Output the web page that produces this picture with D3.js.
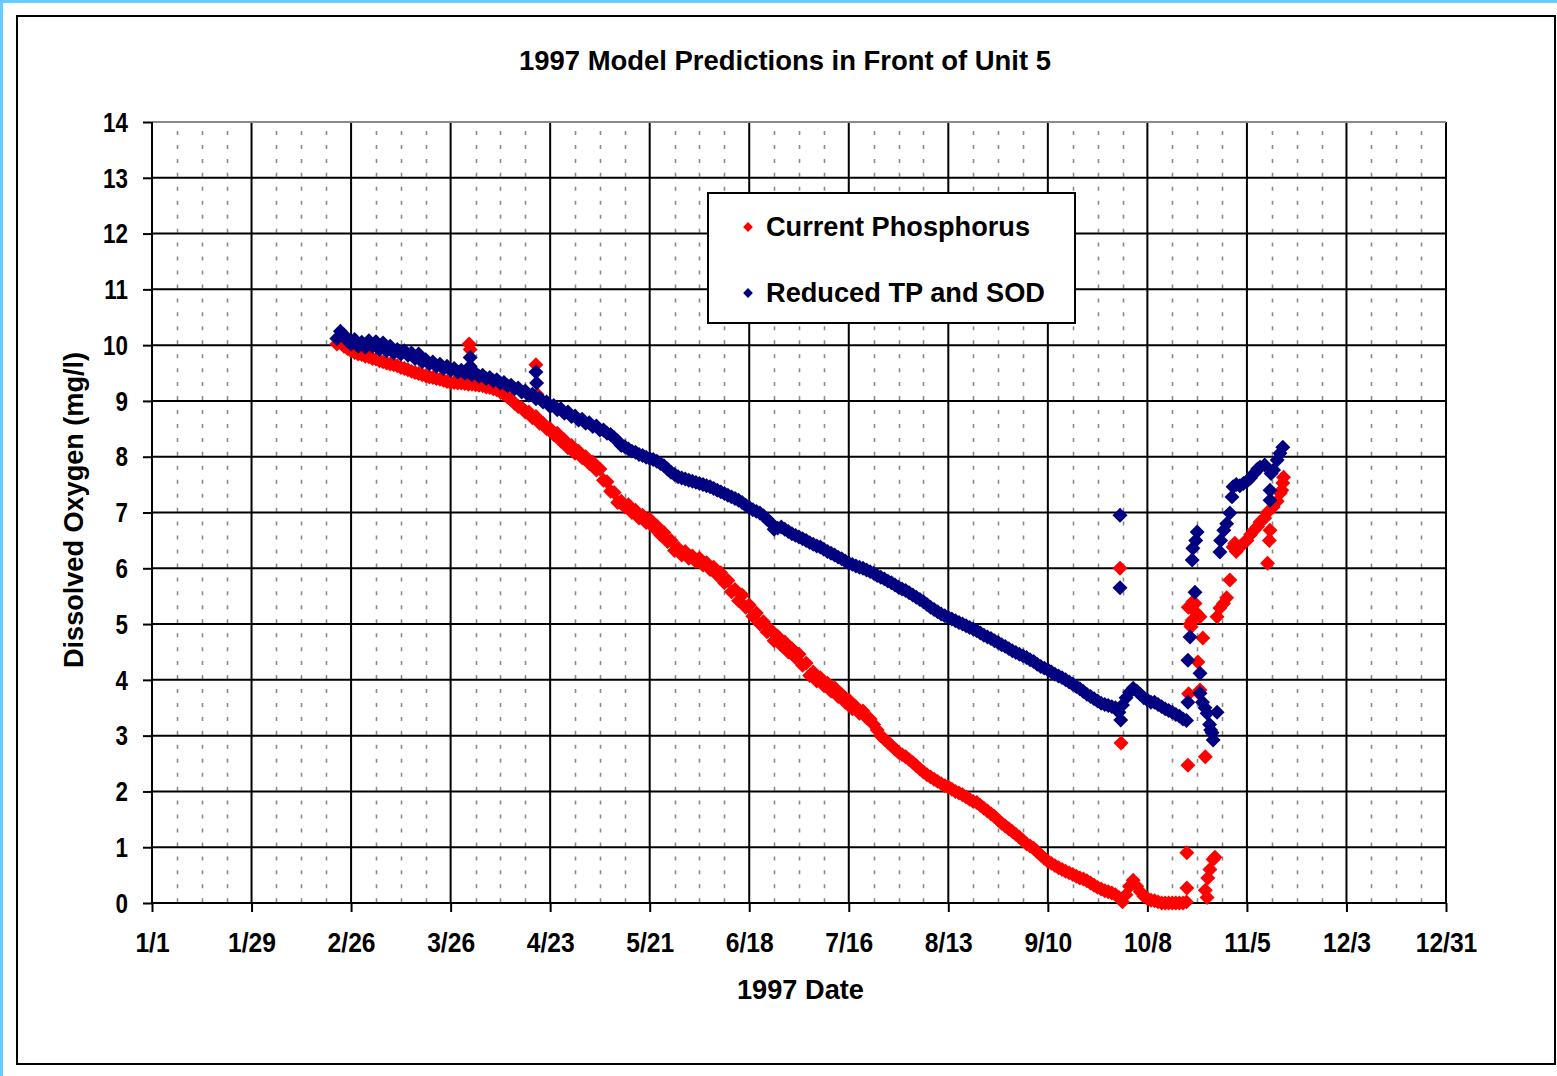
<!DOCTYPE html>
<html><head><meta charset="utf-8">
<script src="https://cdn.jsdelivr.net/npm/d3@7"></script>
<style>
html,body{margin:0;padding:0;background:#fff;}
svg{display:block;}
text{font-family:"Liberation Sans", Arial, sans-serif;font-weight:bold;fill:#000;}
</style></head><body>
<svg id="chart" width="1557" height="1076"></svg>
<script>
const chartTitle = "1997 Model Predictions in Front of Unit 5";
const xTitle = "1997 Date";
const yTitle = "Dissolved Oxygen (mg/l)";
const seriesNames = ["Current Phosphorus", "Reduced TP and SOD"];
const seriesColors = ["#FF0000", "#000080"];
const yTickValues = [0,1,2,3,4,5,6,7,8,9,10,11,12,13,14];
const xTickDays = [0,28,56,84,112,140,168,196,224,252,280,308,336,364];
const xTickLabels = ["1/1","1/29","2/26","3/26","4/23","5/21","6/18","7/16","8/13","9/10","10/8","11/5","12/3","12/31"];
const minorStepDays = 7;
const bandStartDay = 52; // first day-of-year of the daily values (2/22)

// daily values, day 52 .. 291
const currentPhosphorus = [
10.02,10.05,9.98,9.94,9.9,9.87,9.84,9.83,9.8,9.79,
9.76,9.75,9.72,9.7,9.68,9.66,9.65,9.63,9.6,9.58,
9.56,9.53,9.51,9.49,9.47,9.45,9.43,9.42,9.4,9.39,
9.37,9.35,9.33,9.33,9.32,9.32,9.31,9.3,9.3,9.29,
9.28,9.27,9.25,9.24,9.22,9.2,9.16,9.12,9.07,9.02,
8.96,8.9,8.88,8.8,8.8,8.7,8.72,8.6,8.6,8.5,
8.5,8.4,8.42,8.28,8.3,8.16,8.2,8.06,8.1,7.98,
8.0,7.88,7.9,7.76,7.78,7.58,7.55,7.38,7.36,7.18,
7.2,7.1,7.14,7.0,7.04,6.9,6.95,6.82,6.88,6.74,
6.76,6.6,6.64,6.48,6.5,6.32,6.36,6.24,6.3,6.18,
6.22,6.12,6.18,6.06,6.1,5.98,6.02,5.88,5.92,5.74,
5.78,5.58,5.62,5.42,5.52,5.3,5.34,5.14,5.2,5.0,
5.04,4.86,4.9,4.7,4.78,4.62,4.68,4.5,4.56,4.4,
4.46,4.26,4.3,4.08,4.14,3.98,4.04,3.9,3.94,3.8,
3.86,3.7,3.74,3.6,3.64,3.48,3.52,3.4,3.44,3.32,
3.3,3.2,3.1,3.0,2.94,2.88,2.82,2.76,2.7,2.66,
2.62,2.57,2.52,2.46,2.4,2.35,2.3,2.26,2.22,2.18,
2.14,2.1,2.08,2.04,2.0,1.97,1.94,1.9,1.86,1.82,
1.8,1.75,1.7,1.65,1.6,1.55,1.49,1.43,1.38,1.33,
1.28,1.23,1.18,1.12,1.06,1.02,0.98,0.92,0.86,0.8,
0.75,0.71,0.67,0.63,0.6,0.57,0.54,0.51,0.48,0.45,
0.43,0.4,0.36,0.32,0.28,0.25,0.22,0.2,0.18,0.15,
0.1,0.02,0.15,0.3,0.41,0.3,0.2,0.12,0.08,0.05,
0.04,0.02,0.0,0.0,0.0,0.0,0.0,0.0,0.0,0.02
];
const reducedTPSOD = [
10.12,10.25,10.18,10.08,10.02,10.1,9.98,10.05,9.96,10.08,
9.98,10.06,9.92,10.04,9.9,9.98,9.86,9.92,9.84,9.9,
9.82,9.86,9.76,9.84,9.7,9.74,9.66,9.7,9.62,9.66,
9.58,9.62,9.55,9.58,9.52,9.55,9.5,9.52,9.47,9.5,
9.44,9.46,9.4,9.42,9.36,9.38,9.32,9.33,9.27,9.28,
9.22,9.23,9.16,9.18,9.1,9.12,9.04,9.05,8.98,8.98,
8.9,8.92,8.84,8.86,8.78,8.8,8.72,8.73,8.66,8.67,
8.6,8.61,8.54,8.55,8.48,8.48,8.42,8.4,8.34,8.28,
8.2,8.18,8.14,8.1,8.08,8.04,8.02,7.99,7.97,7.95,
7.92,7.88,7.84,7.78,7.72,7.68,7.64,7.62,7.6,7.58,
7.56,7.54,7.52,7.5,7.48,7.46,7.43,7.4,7.37,7.34,
7.31,7.28,7.25,7.22,7.18,7.13,7.09,7.05,7.02,6.99,
6.94,6.88,6.82,6.7,6.72,6.74,6.7,6.66,6.62,6.59,
6.56,6.53,6.5,6.46,6.43,6.4,6.38,6.34,6.3,6.27,
6.24,6.2,6.17,6.13,6.09,6.07,6.04,6.02,6.0,5.97,
5.94,5.91,5.87,5.84,5.81,5.77,5.74,5.7,5.66,5.63,
5.6,5.56,5.52,5.48,5.44,5.4,5.35,5.3,5.26,5.22,
5.18,5.15,5.12,5.09,5.06,5.03,5.0,4.97,4.94,4.91,
4.88,4.84,4.8,4.77,4.74,4.7,4.67,4.63,4.6,4.56,
4.52,4.49,4.46,4.43,4.4,4.36,4.33,4.28,4.24,4.21,
4.18,4.14,4.1,4.07,4.04,4.0,3.96,3.92,3.88,3.84,
3.79,3.74,3.7,3.66,3.62,3.58,3.56,3.54,3.52,3.5,
3.42,3.55,3.68,3.78,3.85,3.8,3.74,3.68,3.64,3.6,
3.6,3.56,3.52,3.48,3.45,3.42,3.38,3.35,3.3,3.27
];
// irregular points [day-of-year, value]
const currentPhosphorusExtra = [
[89.2,10.02],[89.5,9.92],[108,9.65],[108.3,9.12],[272.3,6.0],[272.6,2.87],
[291.1,0.9],[291.1,0.27],[291.4,2.47],[291.6,3.75],[291.5,5.3],[292,5.0],[292.3,4.95],[292.6,5.07],[292.8,5.4],
[293.4,5.37],[293.8,5.2],[294.2,4.32],[294.5,3.76],[294.8,5.13],[294.8,3.82],[295.6,4.75],
[296.3,2.62],[296.3,0.23],[296.8,0.1],[297,0.45],[297.6,0.6],[298.5,0.78],[299,0.82],
[299.6,5.13],[300.4,5.29],[301.4,5.37],[302.3,5.47],[303.2,5.79],[304.1,6.38],[304.6,6.45],
[305,6.3],[306,6.38],[307,6.45],[308,6.5],[309,6.6],[310,6.68],[311,6.75],[311.7,6.83],
[313,6.9],[313.6,6.99],[314.3,6.5],[314.5,6.68],[313.8,6.09],[315.4,7.1],[316.5,7.2],
[317.4,7.35],[317.8,7.4],[318.1,7.53],[318.3,7.63]
];
const reducedTPSODExtra = [
[89.5,9.78],[89.5,9.62],[108,9.52],[108.2,9.32],[272.3,6.95],[272.3,5.65],[272.5,3.28],
[291.4,4.35],[292,4.77],[292.6,6.15],[292.8,6.36],[293.4,5.57],[294,6.65],[293.6,6.5],[294.8,4.12],
[291.4,3.6],[294.8,3.76],[295.5,3.6],[296.2,3.5],[296.8,3.4],[297.5,3.2],[297.8,3.1],[298.2,3.05],
[298.5,2.92],[299.6,3.42],[300.4,6.29],[300.6,6.5],[301.5,6.68],[302.3,6.8],[303.2,6.99],
[303.8,7.28],[304.1,7.46],[305,7.5],[306,7.48],[307,7.52],[308,7.56],[309,7.62],[310,7.7],
[311,7.78],[311.7,7.81],[313,7.85],[314.5,7.4],[314.5,7.22],[314.8,7.7],[315.5,7.76],
[316.5,7.94],[317.3,8.06],[318.1,8.17]
];

const svg = d3.select("#chart");
const W = 1557, H = 1076;
const plot = {left:152, right:1446, top:122, bottom:903};
const yearStart = Date.UTC(1997,0,1);
const dayToDate = d => new Date(yearStart + d*86400000);

const x = d3.scaleUtc().domain([dayToDate(0), dayToDate(364)]).range([plot.left, plot.right]);
const y = d3.scaleLinear().domain([0,14]).range([plot.bottom, plot.top]);

// background and frames
svg.append("rect").attr("width",W).attr("height",H).attr("fill","#fff");
svg.append("rect").attr("x",0).attr("y",0).attr("width",3).attr("height",H).attr("fill","#66CCFF");
svg.append("rect").attr("x",0).attr("y",0).attr("width",W).attr("height",3).attr("fill","#66CCFF");
svg.append("rect").attr("x",17).attr("y",16).attr("width",1538).attr("height",1048)
  .attr("fill","none").attr("stroke","#000").attr("stroke-width",2);

// minor dotted verticals
const minorDays = d3.range(minorStepDays, 364, minorStepDays).filter(d => d % 28 !== 0);
svg.append("g").selectAll("line").data(minorDays).join("line")
  .attr("x1", d => Math.round(x(dayToDate(d)))+0.5).attr("x2", d => Math.round(x(dayToDate(d)))+0.5)
  .attr("y1", plot.top).attr("y2", plot.bottom)
  .attr("stroke","#8a8a8a").attr("stroke-width",1.6)
  .attr("stroke-dasharray","4 9.95").attr("stroke-dashoffset",4.95);

// major grid
const grid = svg.append("g").attr("stroke","#000").attr("stroke-width",2);
grid.selectAll("line.v").data(xTickDays).join("line").attr("class","v")
  .attr("x1", d => x(dayToDate(d))).attr("x2", d => x(dayToDate(d)))
  .attr("y1", plot.top).attr("y2", plot.bottom);
grid.selectAll("line.h").data(yTickValues.filter(v => v < 14)).join("line").attr("class","h")
  .attr("x1", plot.left).attr("x2", plot.right)
  .attr("y1", d => y(d)).attr("y2", d => y(d));
svg.append("line").attr("x1",plot.left).attr("x2",plot.right).attr("y1",y(14)).attr("y2",y(14))
  .attr("stroke","#8a8a8a").attr("stroke-width",2);

// axes
const xAxis = d3.axisBottom(x)
  .tickValues(xTickDays.map(dayToDate))
  .tickFormat((d,i) => xTickLabels[i])
  .tickSize(9).tickSizeOuter(0);
const gx = svg.append("g").attr("transform",`translate(0,${plot.bottom})`).call(xAxis);
gx.select(".domain").remove();
gx.selectAll(".tick line").attr("stroke","#000").attr("stroke-width",2);
gx.selectAll(".tick text").attr("y",49).attr("dy",null)
  .attr("transform","scale(0.88,1)")
  .style("font-family",'"Liberation Sans", Arial, sans-serif').style("font-weight","bold")
  .style("font-size","28px").attr("fill","#000");

const yAxis = d3.axisLeft(y).tickValues(yTickValues).tickFormat(d3.format("d")).tickSize(9).tickSizeOuter(0);
const gy = svg.append("g").attr("transform",`translate(${plot.left},0)`).call(yAxis);
gy.select(".domain").remove();
gy.selectAll(".tick line").attr("stroke","#000").attr("stroke-width",2);
gy.selectAll(".tick text").attr("x",-30).attr("dy","0.33em")
  .attr("transform","scale(0.8,1)")
  .style("font-family",'"Liberation Sans", Arial, sans-serif').style("font-weight","bold")
  .style("font-size","28px").attr("fill","#000");

// axis lines
svg.append("line").attr("x1",plot.left).attr("x2",plot.left).attr("y1",plot.top).attr("y2",plot.bottom+1)
  .attr("stroke","#000").attr("stroke-width",2);
svg.append("line").attr("x1",plot.left-1).attr("x2",plot.right+1).attr("y1",plot.bottom).attr("y2",plot.bottom)
  .attr("stroke","#000").attr("stroke-width",2);

// data
const diamond = d3.symbol().type(d3.symbolSquare).size(112);
function series(values, extra) {
  const pts = values.map((v,i) => [bandStartDay + i, v]);
  return pts.concat(extra);
}
const allSeries = [series(currentPhosphorus, currentPhosphorusExtra), series(reducedTPSOD, reducedTPSODExtra)];
allSeries.forEach((pts, si) => {
  svg.append("g").selectAll("path").data(pts).join("path")
    .attr("d", diamond)
    .attr("transform", d => `translate(${x(dayToDate(d[0]))},${y(d[1])}) rotate(45)`)
    .attr("fill", seriesColors[si]);
});

// legend
const lg = svg.append("g");
lg.append("rect").attr("x",708).attr("y",193).attr("width",367).attr("height",130)
  .attr("fill","#fff").attr("stroke","#000").attr("stroke-width",2);
const legendWidths = [264, 279];
seriesNames.forEach((name, i) => {
  const cy = 227 + i*66;
  lg.append("path").attr("d", d3.symbol().type(d3.symbolSquare).size(48))
    .attr("transform",`translate(748,${cy}) rotate(45)`).attr("fill",seriesColors[i]);
  lg.append("text").attr("x",766).attr("y",cy+9).attr("font-size",27)
    .attr("textLength",legendWidths[i]).attr("lengthAdjust","spacingAndGlyphs").text(name);
});

// titles
svg.append("text").attr("x",519).attr("y",70).attr("font-size",27)
  .attr("textLength",532).attr("lengthAdjust","spacingAndGlyphs").text(chartTitle);
svg.append("text").attr("x",737).attr("y",999).attr("font-size",27)
  .attr("textLength",127).attr("lengthAdjust","spacingAndGlyphs").text(xTitle);
svg.append("text").attr("transform","translate(83,668) rotate(-90)").attr("x",0).attr("y",0)
  .attr("font-size",27).attr("textLength",316).attr("lengthAdjust","spacingAndGlyphs").text(yTitle);
</script>
</body></html>
